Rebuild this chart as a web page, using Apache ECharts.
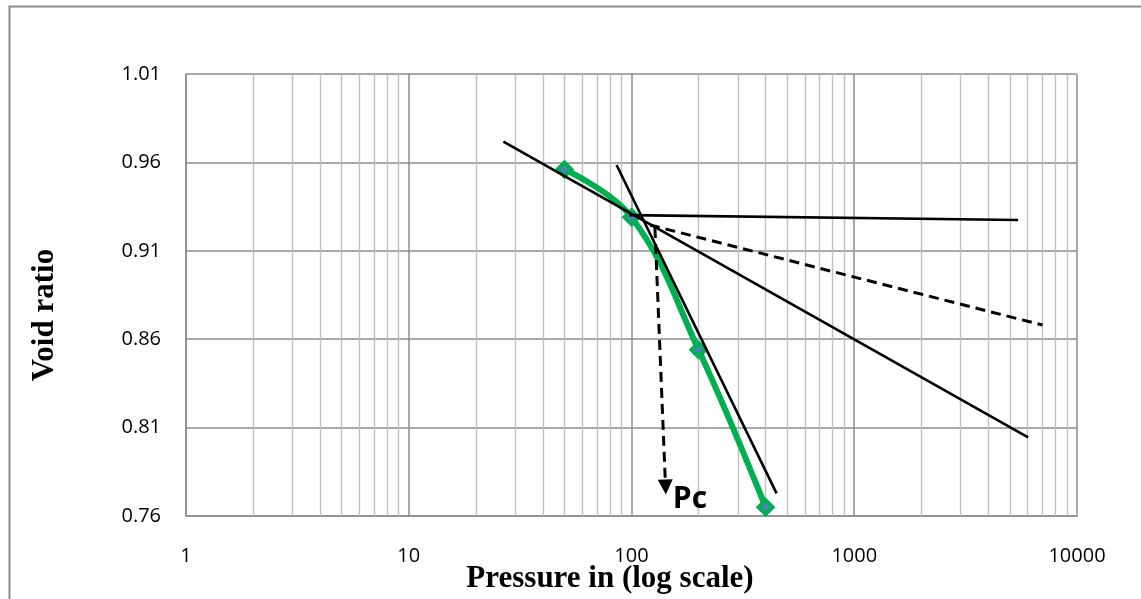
<!DOCTYPE html>
<html>
<head>
<meta charset="utf-8">
<script src="https://cdn.jsdelivr.net/npm/echarts@6/dist/echarts.min.js"></script>
<style>
  html, body { margin: 0; padding: 0; background: #fff; }
  #chart { width: 1141px; height: 599px; }
</style>
</head>
<body>
<div id="chart"></div>
<script>
// Consolidation test: void ratio vs. pressure
const pressure = [50, 100, 200, 400];
const voidRatio = [0.956, 0.929, 0.854, 0.765];

// Casagrande construction lines ([pressure, void ratio] end points)
const tangentLine = [[26.6, 0.9717], [6033, 0.8045]];
const horizontalLine = [[98, 0.9302], [5440, 0.9274]];
const bisectorLine = [[121, 0.9246], [7000, 0.868]];
const virginLine = [[85.7, 0.9585], [448, 0.7728]];
const pcArrow = [[127.4, 0.9229], [142.2, 0.7764]];
const pcLabelAt = [183, 0.7696];

const xTicks = [1, 10, 100, 1000, 10000];
const yMin = 0.76, yMax = 1.01, yStep = 0.05;

// minor log grid lines: 2..9 within each decade
const minorLines = [];
for (let d = 0; d < xTicks.length - 1; d++) {
  for (let k = 2; k <= 9; k++) minorLines.push({ xAxis: k * xTicks[d] });
}

const tickFont = { fontFamily: 'Open Sans', fontSize: 20, color: '#000' };
const black = '#000';

function segment(name, pts, dashed) {
  return {
    name, type: 'line', data: pts, symbol: 'none', z: 4, silent: true,
    lineStyle: { color: black, width: dashed ? 3 : 2.6, type: dashed ? [10, 6] : 'solid' }
  };
}

const chart = echarts.init(document.getElementById('chart'), null, { renderer: 'canvas' });
chart.setOption({
  animation: false,
  backgroundColor: '#fff',
  grid: { left: 186, right: 64, top: 74, bottom: 83 },
  xAxis: {
    type: 'log', logBase: 10, min: xTicks[0], max: xTicks[xTicks.length - 1],
    axisLine: { lineStyle: { color: '#8c8c8c', width: 1.5 } },
    axisTick: { show: false },
    axisLabel: Object.assign({ margin: 30, formatter: v => String(v) }, tickFont),
    splitLine: { show: true, lineStyle: { color: '#8c8c8c', width: 1.5 } }
  },
  yAxis: {
    type: 'value', min: yMin, max: yMax, interval: yStep,
    axisLine: { show: true, lineStyle: { color: '#8c8c8c', width: 1.5 } },
    axisTick: { show: false },
    axisLabel: Object.assign({ margin: 25, formatter: v => v.toFixed(2) }, tickFont),
    splitLine: { show: true, lineStyle: { color: '#8c8c8c', width: 1.5 } }
  },
  graphic: [
    { type: 'rect', left: 7, top: 4, shape: { width: 1140, height: 600 },
      style: { fill: 'none', stroke: '#8c8c8c', lineWidth: 2 }, silent: true },
    { type: 'text', x: 610, y: 579,
      style: { text: 'Pressure in (log scale)', font: 'bold 31px "Liberation Serif"', fill: '#000',
               align: 'center', verticalAlign: 'middle' } },
    { type: 'text', x: 45, y: 315, rotation: Math.PI / 2,
      style: { text: 'Void ratio', font: 'bold 31px "Liberation Serif"', fill: '#000',
               align: 'center', verticalAlign: 'middle' } }
  ],
  series: [
    {
      name: 'e-log p', type: 'line', z: 3,
      data: pressure.map((p, i) => [p, voidRatio[i]]),
      smooth: 0.4,
      lineStyle: { color: '#00b050', width: 6 },
      symbol: 'diamond', symbolSize: 14,
      itemStyle: { color: '#4f81bd', borderColor: '#00b050', borderWidth: 4 },
      markLine: {
        silent: true, z: 1, symbol: 'none', label: { show: false },
        lineStyle: { color: '#c0c0c0', width: 1.4, type: 'solid' },
        data: minorLines
      }
    },
    segment('tangent', tangentLine, false),
    segment('horizontal', horizontalLine, false),
    segment('bisector', bisectorLine, true),
    segment('virgin', virginLine, false),
    {
      name: 'Pc arrow', type: 'lines', coordinateSystem: 'cartesian2d', z: 4, silent: true,
      symbol: ['none', 'triangle'], symbolSize: [12, 15],
      lineStyle: { color: black, width: 3, type: [10, 6], opacity: 1 },
      data: [{ coords: pcArrow }]
    },
    {
      name: 'Pc', type: 'scatter', z: 5, silent: true, symbolSize: 0,
      itemStyle: { opacity: 1 },
      data: [pcLabelAt],
      label: { show: true, position: 'inside', formatter: 'Pc', opacity: 1,
               fontFamily: 'Open Sans', fontWeight: 'bold', fontSize: 30, color: '#000',
               textBorderWidth: 0 }
    }
  ]
});
</script>
</body>
</html>
